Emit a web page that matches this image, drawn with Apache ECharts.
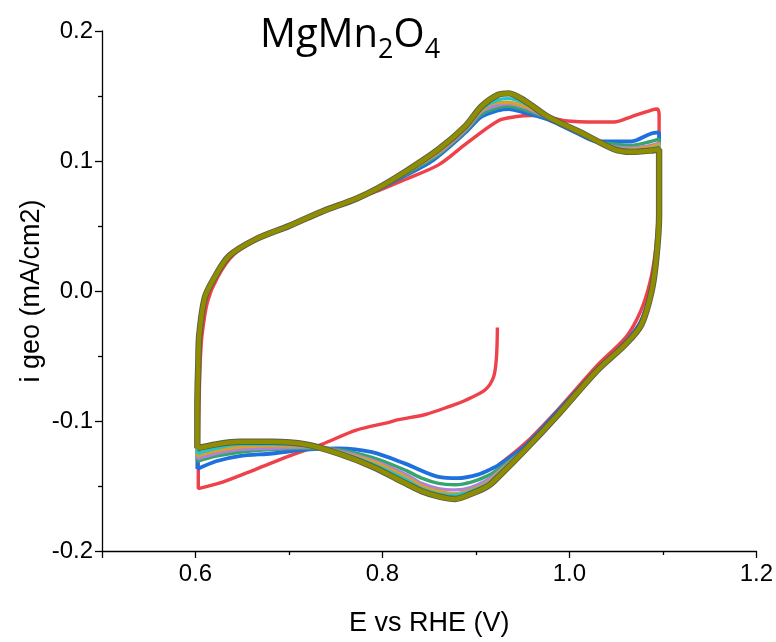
<!DOCTYPE html>
<html>
<head>
<meta charset="utf-8">
<script src="https://cdn.jsdelivr.net/npm/echarts@6/dist/echarts.min.js"></script>
<style>html,body{margin:0;padding:0;background:#fff}#c{width:776px;height:642px}</style>
</head>
<body>
<div id="c"></div>
<script>
// Axis ticks
const xMajorTicks = [0.5, 0.6, 0.8, 1.0, 1.2];
const xMinorTicks = [0.7, 0.9, 1.1];
const xLabels = [0.6, 0.8, 1.0, 1.2];

// Cycle 1 (red): starts at open circuit, sweeps cathodic, then anodic, then back
const cycle1 = [
  [0.923,-0.028],[0.922,-0.051],[0.919,-0.066],[0.910,-0.076],[0.889,-0.084],[0.871,-0.089],
  [0.846,-0.095],[0.817,-0.099],[0.807,-0.101],[0.772,-0.107],[0.735,-0.118],[0.700,-0.127],
  [0.665,-0.137],[0.629,-0.147],[0.603,-0.152],
  [0.603,-0.120],[0.604,-0.082],[0.605,-0.056],[0.607,-0.034],[0.613,-0.008],[0.624,0.011],
  [0.641,0.028],[0.665,0.039],[0.700,0.050],[0.735,0.061],[0.772,0.071],[0.795,0.077],
  [0.825,0.086],[0.860,0.097],[0.889,0.113],[0.924,0.131],[0.942,0.134],[0.959,0.135],
  [0.977,0.134],[0.995,0.131],[1.030,0.130],[1.048,0.130],[1.066,0.134],[1.087,0.139],
  [1.094,0.140],[1.096,0.136],
  [1.096,0.094],[1.095,0.058],[1.092,0.030],[1.086,0.006],[1.076,-0.016],[1.061,-0.035],
  [1.030,-0.057],[0.988,-0.091],[0.953,-0.117],[0.924,-0.134]
];

// Cycle 2 (blue)
const cycle2 = [
  [0.602,-0.137],[0.602,-0.097],[0.603,-0.056],[0.604,-0.034],[0.611,-0.005],[0.621,0.010],
  [0.637,0.027],[0.665,0.040],[0.700,0.050],[0.735,0.061],[0.772,0.071],[0.795,0.078],
  [0.825,0.089],[0.853,0.100],[0.889,0.122],[0.906,0.134],[0.924,0.139],[0.935,0.140],
  [0.953,0.137],[0.977,0.132],[1.012,0.120],[1.030,0.115],[1.066,0.115],[1.087,0.121],
  [1.096,0.122],
  [1.096,0.058],[1.093,0.025],[1.087,0.000],[1.076,-0.024],[1.059,-0.040],[1.030,-0.060],
  [0.988,-0.092],[0.953,-0.119],[0.924,-0.134],[0.916,-0.137],[0.903,-0.141],[0.881,-0.144],
  [0.860,-0.143],[0.825,-0.133],[0.789,-0.124],[0.753,-0.121],[0.718,-0.122],[0.682,-0.125],
  [0.647,-0.127],[0.622,-0.131],[0.602,-0.137]
];

// Cycle 3 (green)
const cycle3 = [
  [0.602,-0.131],[0.602,-0.090],[0.603,-0.056],[0.604,-0.034],[0.610,-0.005],[0.620,0.010],
  [0.636,0.027],[0.665,0.040],[0.700,0.050],[0.735,0.061],[0.772,0.071],[0.795,0.078],
  [0.825,0.090],[0.860,0.105],[0.889,0.123],[0.906,0.136],[0.924,0.141],[0.935,0.142],
  [0.953,0.139],[0.977,0.133],[1.012,0.121],[1.030,0.115],[1.048,0.113],[1.066,0.112],
  [1.087,0.115],[1.096,0.117],
  [1.096,0.058],[1.093,0.025],[1.088,0.000],[1.077,-0.025],[1.060,-0.041],[1.030,-0.061],
  [0.988,-0.094],[0.953,-0.121],[0.924,-0.137],[0.913,-0.142],[0.895,-0.147],[0.878,-0.149],
  [0.860,-0.148],[0.842,-0.144],[0.825,-0.138],[0.789,-0.128],[0.753,-0.122],[0.718,-0.121],
  [0.682,-0.122],[0.647,-0.124],[0.622,-0.127],[0.602,-0.131]
];

// Cycle 4 (purple)
const cycle4 = [
  [0.602,-0.129],[0.602,-0.090],[0.603,-0.056],[0.604,-0.034],[0.610,-0.005],[0.620,0.010],
  [0.636,0.027],[0.665,0.040],[0.700,0.050],[0.735,0.061],[0.772,0.071],[0.795,0.078],
  [0.825,0.091],[0.860,0.106],[0.889,0.124],[0.906,0.138],[0.924,0.143],[0.935,0.144],
  [0.953,0.141],[0.977,0.133],[1.012,0.121],[1.030,0.115],[1.048,0.111],[1.066,0.110],
  [1.087,0.112],[1.096,0.114],
  [1.096,0.058],[1.093,0.025],[1.088,0.000],[1.077,-0.025],[1.060,-0.041],[1.030,-0.061],
  [0.988,-0.094],[0.953,-0.121],[0.924,-0.139],[0.913,-0.145],[0.895,-0.151],[0.878,-0.153],
  [0.860,-0.152],[0.842,-0.148],[0.825,-0.141],[0.789,-0.130],[0.753,-0.123],[0.718,-0.120],
  [0.682,-0.121],[0.647,-0.122],[0.622,-0.125],[0.602,-0.129]
];

// Cycle 5 (orange)
const cycle5 = [
  [0.602,-0.127],[0.602,-0.090],[0.603,-0.056],[0.604,-0.034],[0.610,-0.005],[0.620,0.010],
  [0.636,0.027],[0.665,0.040],[0.700,0.050],[0.735,0.061],[0.772,0.071],[0.795,0.078],
  [0.825,0.091],[0.860,0.107],[0.889,0.125],[0.906,0.139],[0.924,0.145],[0.935,0.145],
  [0.953,0.142],[0.977,0.134],[1.012,0.121],[1.030,0.115],[1.048,0.110],[1.066,0.109],
  [1.087,0.111],[1.096,0.113],
  [1.096,0.058],[1.093,0.025],[1.088,0.000],[1.077,-0.025],[1.060,-0.041],[1.030,-0.061],
  [0.988,-0.094],[0.953,-0.121],[0.924,-0.140],[0.913,-0.147],[0.895,-0.153],[0.878,-0.156],
  [0.860,-0.154],[0.842,-0.150],[0.825,-0.143],[0.789,-0.131],[0.753,-0.124],[0.718,-0.119],
  [0.682,-0.119],[0.647,-0.120],[0.622,-0.123],[0.602,-0.127]
];

// Cycle 6 (cyan)
const cycle6 = [
  [0.602,-0.125],[0.602,-0.090],[0.603,-0.056],[0.604,-0.034],[0.610,-0.005],[0.620,0.010],
  [0.636,0.027],[0.665,0.040],[0.700,0.050],[0.735,0.061],[0.772,0.071],[0.795,0.078],
  [0.825,0.092],[0.860,0.108],[0.889,0.126],[0.906,0.140],[0.924,0.147],[0.935,0.148],
  [0.953,0.144],[0.977,0.134],[1.012,0.121],[1.030,0.115],[1.048,0.110],[1.066,0.108],
  [1.087,0.109],[1.096,0.111],
  [1.096,0.058],[1.093,0.025],[1.088,0.000],[1.077,-0.025],[1.060,-0.041],[1.030,-0.061],
  [0.988,-0.094],[0.953,-0.121],[0.924,-0.141],[0.913,-0.148],[0.895,-0.154],[0.878,-0.157],
  [0.860,-0.156],[0.842,-0.152],[0.825,-0.145],[0.789,-0.133],[0.753,-0.124],[0.718,-0.119],
  [0.682,-0.118],[0.647,-0.118],[0.622,-0.121],[0.602,-0.125]
];

// Last cycle (olive, drawn over a dark grey one)
const cycle7 = [
  [0.602,-0.121],[0.602,-0.089],[0.603,-0.056],[0.604,-0.034],[0.610,-0.005],[0.620,0.010],
  [0.636,0.027],[0.665,0.040],[0.700,0.050],[0.735,0.061],[0.772,0.071],[0.795,0.079],
  [0.825,0.092],[0.860,0.109],[0.889,0.127],[0.906,0.142],[0.924,0.151],[0.935,0.152],
  [0.953,0.146],[0.977,0.134],[1.012,0.122],[1.048,0.109],[1.066,0.107],[1.087,0.108],
  [1.096,0.109],
  [1.096,0.058],[1.093,0.025],[1.088,0.000],[1.077,-0.026],[1.060,-0.041],[1.030,-0.061],
  [0.988,-0.095],[0.953,-0.122],[0.924,-0.143],[0.913,-0.150],[0.895,-0.156],[0.878,-0.160],
  [0.860,-0.158],[0.842,-0.154],[0.825,-0.148],[0.789,-0.135],[0.753,-0.125],[0.718,-0.118],
  [0.682,-0.116],[0.647,-0.116],[0.622,-0.118],[0.602,-0.121]
];

const chart = echarts.init(document.getElementById('c'), null, {renderer: 'canvas'});
const FONT = 'Liberation Sans';
function line(data, color, width) {
  return {type: 'line', data: data, showSymbol: false, smooth: 0.3, color: color,
          lineStyle: {color: color, width: width}, xAxisIndex: 0, yAxisIndex: 0, silent: true};
}
const axisLineStyle = {color: '#000', width: 1.3};
chart.setOption({
  animation: false,
  backgroundColor: '#fff',
  title: {
    text: '{a|MgMn}{b|2}{a|O}{b|4}',
    left: 345, top: 11, textAlign: 'center',
    textStyle: {
      fontWeight: 'normal',
      rich: {
        a: {fontFamily: 'Open Sans', fontWeight: 'normal', fontSize: 40, color: '#000', lineHeight: 48, verticalAlign: 'top'},
        b: {fontFamily: 'Open Sans', fontWeight: 'normal', fontSize: 27, color: '#000', lineHeight: 42, verticalAlign: 'bottom'}
      }
    }
  },
  grid: {left: 102, top: 31, right: 16.4, bottom: 87, containLabel: false},
  xAxis: [{
    type: 'value', min: 0.5, max: 1.2, interval: 0.1,
    name: 'E vs RHE (V)', nameLocation: 'middle', nameGap: 59, nameMoveOverlap: false,
    nameTextStyle: {fontFamily: FONT, fontSize: 27, color: '#000'},
    axisLine: {show: true, onZero: false, lineStyle: axisLineStyle},
    axisTick: {show: true, length: 7, lineStyle: axisLineStyle, customValues: xMajorTicks},
    axisLabel: {fontFamily: FONT, fontSize: 24, color: '#000', margin: 11, customValues: xLabels,
                formatter: v => v.toFixed(1)},
    splitLine: {show: false}
  }, {
    type: 'value', min: 0.5, max: 1.2, interval: 0.1, position: 'bottom',
    axisLine: {show: false, onZero: false},
    axisTick: {show: true, length: 4, lineStyle: axisLineStyle, customValues: xMinorTicks},
    axisLabel: {show: false},
    splitLine: {show: false}
  }],
  yAxis: {
    type: 'value', min: -0.2, max: 0.2, interval: 0.1,
    name: 'i geo (mA/cm2)', nameLocation: 'middle', nameGap: 57, nameRotate: 90, nameMoveOverlap: false,
    nameTextStyle: {fontFamily: FONT, fontSize: 27, color: '#000'},
    axisLine: {show: true, onZero: false, lineStyle: axisLineStyle},
    axisTick: {show: true, length: 7, lineStyle: axisLineStyle},
    minorTick: {show: true, splitNumber: 2, length: 4, lineStyle: axisLineStyle},
    axisLabel: {fontFamily: FONT, fontSize: 24, color: '#000', margin: 9,
                formatter: v => v.toFixed(1)},
    splitLine: {show: false}, minorSplitLine: {show: false}
  },
  series: [
    line(cycle1, '#EF4149', 3.4),
    line(cycle2, '#1F6FDC', 3.8),
    line(cycle3, '#35A56E', 3.4),
    line(cycle4, '#AE82D8', 3.4),
    line(cycle5, '#DBA028', 3.4),
    line(cycle6, '#22C5CC', 3.4),
    line(cycle7, '#5C5C4E', 6.4),
    line(cycle7, '#8E8E00', 4.6)
  ]
});
</script>
</body>
</html>
